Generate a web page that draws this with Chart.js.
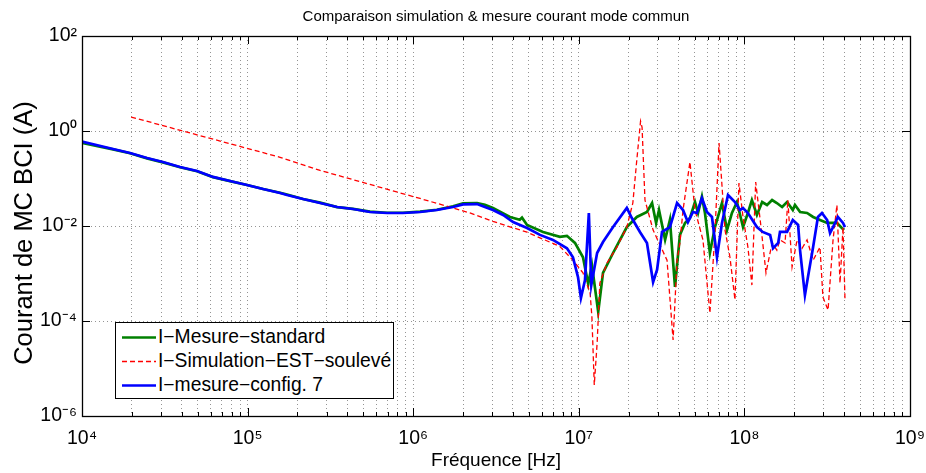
<!DOCTYPE html>
<html><head><meta charset="utf-8">
<script src="https://cdn.jsdelivr.net/npm/chart.js@4/dist/chart.umd.min.js"></script>
<style>
html,body{margin:0;padding:0;background:#fff;}
#wrap{position:relative;width:926px;height:473px;}
#legend{position:absolute;left:115px;top:322px;width:277px;height:75px;border:1px solid #000;background:#fff;font-family:'Liberation Sans',Arial,sans-serif;font-size:19.3px;color:#000;overflow:hidden;}
.row{position:absolute;left:0;width:277px;height:24px;line-height:24px;white-space:nowrap;}
.row svg{position:absolute;left:6px;top:0;}
.row span{position:absolute;left:42px;top:0;}
</style></head><body>
<div id="wrap"><canvas id="c" width="926" height="473"></canvas><div id="legend"></div></div>
<script>
// ---- data (frequency in Hz, current in A) ----
const freqStd = [1e4,1.54e4,1.95e4,2.47e4,3.08e4,3.91e4,4.95e4,6.18e4,7.83e4,9.92e4,1.24e5,1.57e5,1.73e5,2.16e5,2.74e5,3.47e5,4.33e5,5.48e5,6.95e5,8.67e5,1.10e6,1.39e6,1.74e6,2.00e6,2.43e6,2.71e6,3.03e6,3.84e6,4.40e6,4.54e6,4.87e6,6.08e6,7.69e6,8.48e6,9.48e6,1.06e7,1.14e7,1.20e7,1.31e7,1.40e7,1.61e7,1.95e7,2.24e7,2.58e7,2.77e7,2.93e7,3.05e7,3.32e7,3.55e7,3.81e7,4.08e7,4.38e7,4.69e7,5.03e7,5.25e7,5.54e7,5.78e7,6.19e7,6.64e7,7.32e7,7.85e7,8.41e7,9.02e7,9.81e7,1.05e8,1.11e8,1.19e8,1.28e8,1.37e8,1.47e8,1.57e8,1.69e8,1.81e8,1.96e8,2.02e8,2.17e8,2.39e8,2.60e8,2.86e8,3.16e8,3.62e8,3.99e8];
const currStd = [0.56,0.41,0.34,0.265,0.218,0.172,0.142,0.107,0.088,0.073,0.060,0.050,0.046,0.037,0.031,0.025,0.023,0.020,0.019,0.019,0.020,0.022,0.026,0.030,0.0305,0.028,0.024,0.0155,0.0135,0.015,0.0105,0.0075,0.0059,0.0062,0.0044,0.0022,0.0006,0.0015,0.000155,0.00103,0.0027,0.0095,0.0155,0.0197,0.0305,0.0116,0.0217,0.0051,0.0134,0.00052,0.0065,0.0116,0.0147,0.032,0.0188,0.0415,0.0188,0.0027,0.0095,0.0305,0.0082,0.0188,0.032,0.0095,0.0188,0.0352,0.0171,0.032,0.0277,0.0352,0.0305,0.0251,0.032,0.0217,0.0277,0.0197,0.0188,0.0155,0.0134,0.0116,0.0116,0.0082];

const freqSim = [1.98e4,1.57e5,2.74e5,5.48e5,1.10e6,2.20e6,3.03e6,4.87e6,7.69e6,9.22e6,1.06e7,1.17e7,1.20e7,1.24e7,1.29e7,1.34e7,1.48e7,1.70e7,1.95e7,2.12e7,2.24e7,2.36e7,2.41e7,2.51e7,2.81e7,3.41e7,3.71e7,3.92e7,4.08e7,4.26e7,4.69e7,5.03e7,5.62e7,6.19e7,6.64e7,7.03e7,7.64e7,8.18e7,8.77e7,9.27e7,9.81e7,1.05e8,1.11e8,1.17e8,1.26e8,1.35e8,1.47e8,1.57e8,1.64e8,1.76e8,1.83e8,1.94e8,2.08e8,2.23e8,2.39e8,2.60e8,2.86e8,2.98e8,3.20e8,3.43e8,3.62e8,3.78e8,3.94e8,4.05e8];
const currSim = [1.97,0.28,0.148,0.075,0.038,0.0188,0.0125,0.0074,0.0037,0.0019,0.00103,0.00039,0.000121,4.5e-6,3.4e-5,0.00063,0.00166,0.0036,0.0095,0.0305,0.245,1.6,1.2,0.035,0.0082,0.0019,4.0e-5,0.0019,0.0044,0.0217,0.222,0.0217,0.0051,0.000147,0.0071,0.56,0.0082,0.0022,0.00028,0.080,0.0155,0.0036,0.00057,0.084,0.0095,0.00103,0.0044,0.0031,0.0051,0.0044,0.0352,0.00137,0.0051,0.0034,0.0051,0.0019,0.0036,0.00032,0.00017,0.0051,0.0277,0.00063,0.0095,0.00028];

const freqCfg7 = [1e4,1.54e4,1.95e4,2.47e4,3.08e4,3.91e4,4.95e4,6.18e4,7.83e4,9.92e4,1.24e5,1.57e5,1.73e5,2.16e5,2.74e5,3.47e5,4.33e5,5.48e5,6.95e5,8.67e5,1.10e6,1.39e6,1.74e6,2.00e6,2.43e6,2.71e6,3.03e6,3.49e6,4.01e6,4.87e6,5.83e6,6.98e6,8.48e6,9.22e6,9.89e6,1.03e7,1.09e7,1.15e7,1.19e7,1.29e7,1.40e7,1.61e7,1.95e7,2.09e7,2.34e7,2.58e7,2.81e7,2.97e7,3.18e7,3.55e7,3.92e7,4.26e7,4.56e7,4.89e7,5.17e7,5.54e7,5.94e7,6.37e7,6.83e7,7.32e7,7.96e7,8.77e7,9.40e7,9.81e7,1.05e8,1.19e8,1.29e8,1.43e8,1.49e8,1.60e8,1.64e8,1.81e8,1.96e8,2.11e8,2.17e8,2.32e8,2.42e8,2.60e8,2.78e8,2.94e8,3.16e8,3.29e8,3.43e8,3.67e8,3.94e8,4.05e8];
const currCfg7 = [0.60,0.418,0.344,0.270,0.222,0.175,0.144,0.108,0.0886,0.073,0.0601,0.0495,0.045,0.037,0.0305,0.0251,0.0228,0.0197,0.0188,0.0188,0.0197,0.0217,0.0251,0.0285,0.029,0.0251,0.0217,0.0171,0.0121,0.0091,0.0065,0.0051,0.0034,0.0022,0.00084,0.000305,0.00073,0.0188,0.00057,0.0027,0.0046,0.0095,0.024,0.0147,0.0075,0.0044,0.00066,0.0012,0.0075,0.0095,0.0305,0.0217,0.012,0.0197,0.0188,0.0388,0.0197,0.0155,0.0022,0.0116,0.045,0.032,0.0217,0.0239,0.0188,0.0095,0.0075,0.0065,0.0034,0.0044,0.0075,0.0075,0.0134,0.0105,0.0030,0.00035,0.00084,0.0036,0.0155,0.0188,0.0134,0.0071,0.0095,0.0155,0.0116,0.0095];

const seriesNames = ['I\u2212Mesure\u2212standard','I\u2212Simulation\u2212EST\u2212soulev\u00e9','I\u2212mesure\u2212config. 7'];
const xTickValues = [1e4,1e5,1e6,1e7,1e8,1e9];
const xTickLabels = ['10\u2074','10\u2075','10\u2076','10\u2077','10\u2078','10\u2079'];
const yTickValues = [1e-6,1e-4,1e-2,1,1e2];
const yTickLabels = ['10\u207b\u2076','10\u207b\u2074','10\u207b\u00b2','10\u2070','10\u00b2'];
const chartTitle = 'Comparaison simulation & mesure courant mode commun';
const xTitle = 'Fr\u00e9quence [Hz]';
const yTitle = 'Courant de MC BCI (A)';

// ---- chart ----
const FONT = "'Liberation Sans', Arial, Helvetica, sans-serif";
const toPts = (xs, ys) => xs.map((x, i) => ({x: x, y: ys[i]}));
const minorX = [];
for (let e = 4; e < 9; e++) for (let k = 1; k < 10; k++) minorX.push(k * Math.pow(10, e));
minorX.push(1e9);

function labelFor(values, labels, v) {
  for (let i = 0; i < values.length; i++) if (Math.abs(Math.log10(v) - Math.log10(values[i])) < 1e-6) return labels[i];
  return '';
}

const framePlugin = {
  id: 'frame',
  afterDatasetsDraw(chart) {
    const {ctx, chartArea: a, scales} = chart;
    ctx.save();
    ctx.strokeStyle = '#000';
    ctx.lineWidth = 1;
    ctx.setLineDash([]);
    ctx.beginPath();
    minorX.forEach(v => {
      const px = Math.round(scales.x.getPixelForValue(v)) + 0.5;
      const major = xTickValues.some(t => Math.abs(Math.log10(t) - Math.log10(v)) < 1e-6);
      const L = major ? 8 : 4;
      ctx.moveTo(px, a.bottom); ctx.lineTo(px, a.bottom - L);
      ctx.moveTo(px, a.top); ctx.lineTo(px, a.top + L);
    });
    yTickValues.forEach(v => {
      const py = Math.round(scales.y.getPixelForValue(v)) + 0.5;
      ctx.moveTo(a.left, py); ctx.lineTo(a.left + 8, py);
      ctx.moveTo(a.right, py); ctx.lineTo(a.right - 8, py);
    });
    ctx.stroke();
    ctx.lineWidth = 1.3;
    ctx.strokeRect(Math.round(a.left) + 0.5, Math.round(a.top) + 0.5, Math.round(a.right - a.left), Math.round(a.bottom - a.top));
    ctx.restore();
  }
};

// y-axis title: drawn by the scale, nudged a few px toward the bottom like the reference
const yTitleShift = {
  id: 'yTitleShift',
  beforeDraw(chart) { chart.ctx.save(); },
  afterDraw(chart) { chart.ctx.restore(); }
};

const chart = new Chart(document.getElementById('c'), {
  type: 'line',
  data: {
    datasets: [
      {label: seriesNames[0], data: toPts(freqStd, currStd), borderColor: '#008000', borderWidth: 2.7, pointRadius: 0, tension: 0, fill: false, order: 3},
      {label: seriesNames[1], data: toPts(freqSim, currSim), borderColor: '#ff0000', borderWidth: 1.3, borderDash: [5, 3], pointRadius: 0, tension: 0, fill: false, order: 2},
      {label: seriesNames[2], data: toPts(freqCfg7, currCfg7), borderColor: '#0000ff', borderWidth: 2.7, pointRadius: 0, tension: 0, fill: false, order: 1}
    ]
  },
  options: {
    responsive: false,
    animation: false,
    events: [],
    layout: {padding: {left: 0, right: 16, top: 0, bottom: 0}},
    plugins: {
      legend: {display: false},
      tooltip: {enabled: false},
      title: {display: true, text: chartTitle, fullSize: false, color: '#000',
        font: {family: FONT, size: 15, weight: 'normal'}, padding: {top: 8, bottom: 10}}
    },
    scales: {
      x: {
        type: 'logarithmic', min: 1e4, max: 1e9,
        afterBuildTicks: s => { s.ticks = minorX.map(v => ({value: v})); },
        afterFit: s => { s.height = 57; s.paddingLeft = 0; s.paddingRight = 0; },
        ticks: {autoSkip: false, maxRotation: 0, minRotation: 0, padding: 11, color: '#000',
          font: {family: FONT, size: 19.5},
          callback: v => labelFor(xTickValues, xTickLabels, v)},
        grid: {color: 'rgba(0,0,0,0.42)', lineWidth: 1, drawTicks: false},
        border: {display: true, color: '#000', dash: [1, 3]},
        title: {display: true, text: xTitle, color: '#000', font: {family: FONT, size: 19}, padding: {top: 0, bottom: 1}}
      },
      y: {
        type: 'logarithmic', min: 1e-6, max: 1e2,
        afterBuildTicks: s => { s.ticks = yTickValues.map(v => ({value: v})); },
        afterFit: s => { s.width = 82; s.paddingTop = 0; s.paddingBottom = 0; },
        ticks: {autoSkip: false, padding: 5, color: '#000',
          font: {family: FONT, size: 19.5},
          callback: v => labelFor(yTickValues, yTickLabels, v)},
        grid: {color: 'rgba(0,0,0,0.42)', lineWidth: 1, drawTicks: false},
        border: {display: true, color: '#000', dash: [1, 3]},
        title: {display: true, text: yTitle + '\u00a0\u00a0', color: '#000', font: {family: FONT, size: 25.5}, padding: {top: 10, bottom: 0}}
      }
    }
  },
  plugins: [framePlugin]
});

// ---- legend (HTML text) ----
const legend = document.getElementById('legend');
chart.data.datasets.forEach((ds, i) => {
  const row = document.createElement('div');
  row.className = 'row';
  row.style.top = (2 + i * 24) + 'px';
  const dash = ds.borderDash ? 'stroke-dasharray="5,3"' : '';
  row.innerHTML = '<svg width="34" height="24"><line x1="0" y1="12.5" x2="34" y2="12.5" stroke="' + ds.borderColor + '" stroke-width="' + (ds.borderDash ? 1.3 : 2.7) + '" ' + dash + '/></svg>';
  const sp = document.createElement('span');
  sp.textContent = ds.label;
  row.appendChild(sp);
  legend.appendChild(row);
});
</script>
</body></html>
